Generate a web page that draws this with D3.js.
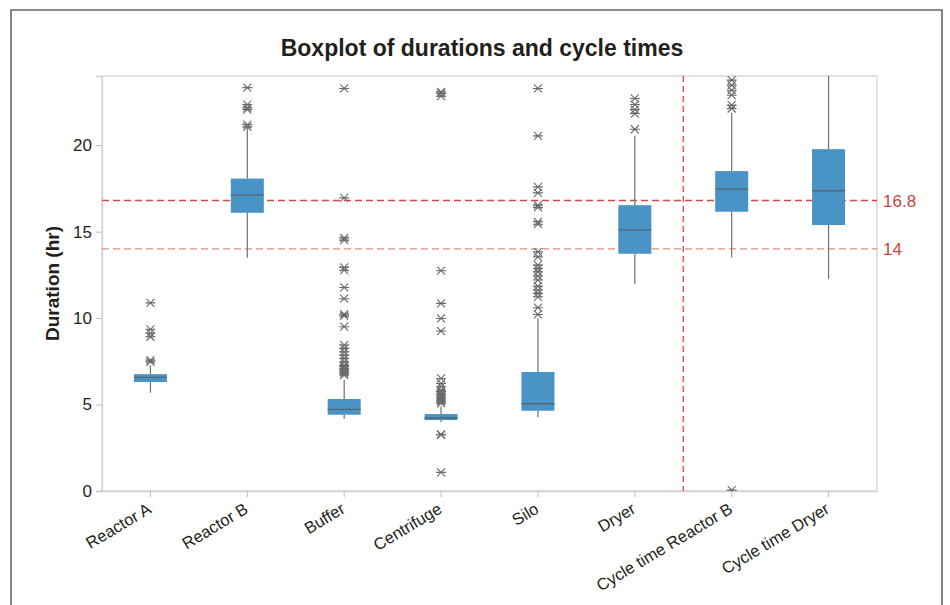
<!DOCTYPE html>
<html>
<head>
<meta charset="utf-8">
<script src="https://cdn.jsdelivr.net/npm/d3@7"></script>
<style>
  html, body { margin: 0; padding: 0; background: #fff; }
  svg { display: block; font-family: "Liberation Sans", Arial, sans-serif; }
</style>
</head>
<body>
<svg id="chart" width="950" height="605"></svg>
<script>
// ---- Data ----
const categories = ["Reactor A", "Reactor B", "Buffer", "Centrifuge", "Silo", "Dryer", "Cycle time Reactor B", "Cycle time Dryer"];
const q1 =        [6.30, 16.09, 4.41, 4.10, 4.64, 13.72, 16.15, 15.38];
const medians =   [6.57, 17.11, 4.72, 4.22, 5.05, 15.10, 17.46, 17.36];
const q3 =        [6.76, 18.07, 5.32, 4.45, 6.88, 16.53, 18.50, 19.77];
const whiskerLo = [5.68, 13.49, 4.16, 3.97, 4.26, 11.98, 13.51, 12.27];
const whiskerHi = [7.28, 21.00, 6.42, 4.90, 9.98, 20.54, 21.87, 25.00];
const outliers = [
  [7.47, 7.57, 8.92, 9.12, 9.35, 10.88],
  [21.06, 21.19, 22.06, 22.16, 22.35, 23.33],
  [6.70, 6.80, 6.90, 7.00, 7.09, 7.20, 7.28, 7.47, 7.67, 7.86, 8.05, 8.25, 8.44, 9.50, 10.13, 10.23, 11.12, 11.77, 12.77, 12.93, 14.51, 14.64, 16.95, 23.28],
  [1.08, 3.24, 3.28, 5.07, 5.17, 5.26, 5.36, 5.45, 5.55, 5.65, 5.75, 5.84, 6.03, 6.22, 6.51, 9.25, 9.98, 10.85, 12.74, 22.83, 22.99, 23.08],
  [10.21, 10.60, 11.23, 11.43, 11.62, 11.85, 12.20, 12.43, 12.68, 12.87, 13.06, 13.54, 13.83, 15.43, 15.57, 16.40, 16.53, 17.24, 17.59, 20.54, 23.28],
  [20.92, 21.83, 22.06, 22.35, 22.70],
  [0.05, 22.12, 22.31, 22.89, 23.18, 23.47, 23.76],
  []
];
const yTicks = [0, 5, 10, 15, 20];
const refLines = [16.8, 14];
const refLabels = ["16.8", "14"];
const dividerAfter = "Dryer";

// ---- Layout ----
const svg = d3.select("#chart");
const margin = { left: 102, right: 877, top: 76, bottom: 491 };

const x = d3.scaleBand().domain(categories).range([margin.left, margin.right]).padding(0);
const y = d3.scaleLinear().domain([0, 24]).range([margin.bottom, margin.top]);

// outer frame
svg.append("path")
  .attr("d", `M11,606 L11,10 L942,10 L942,606`)
  .attr("fill", "none").attr("stroke", "#6d645c").attr("stroke-width", 1.6);

// title
svg.append("text")
  .attr("x", 482).attr("y", 56)
  .attr("text-anchor", "middle")
  .attr("font-size", 23).attr("font-weight", "bold")
  .attr("fill", "#231f1a")
  .text("Boxplot of durations and cycle times");

// clip
svg.append("defs").append("clipPath").attr("id", "plotclip")
  .append("rect")
  .attr("x", margin.left).attr("y", margin.top)
  .attr("width", margin.right - margin.left).attr("height", margin.bottom - margin.top);

// plot frame
svg.append("rect")
  .attr("x", margin.left).attr("y", margin.top)
  .attr("width", margin.right - margin.left).attr("height", margin.bottom - margin.top)
  .attr("fill", "none").attr("stroke", "#d2d2d2").attr("stroke-width", 1.3);

// y axis
const yAxis = svg.append("g")
  .attr("transform", `translate(${margin.left},0)`)
  .call(d3.axisLeft(y).tickValues(yTicks).tickSize(6).tickPadding(4).tickFormat(d3.format("d")));
yAxis.select(".domain").attr("stroke", "#d2d2d2").attr("stroke-width", 1.3);
yAxis.selectAll(".tick line").attr("stroke", "#bdbdbd");
yAxis.selectAll(".tick text").attr("font-size", 17).attr("fill", "#231f1a")
  .attr("font-family", "Liberation Sans, Arial, sans-serif");

// y label
svg.append("text")
  .attr("transform", `translate(59,${(margin.top + margin.bottom) / 2}) rotate(-90)`)
  .attr("text-anchor", "middle")
  .attr("font-size", 19).attr("font-weight", "bold").attr("fill", "#231f1a")
  .text("Duration (hr)");

// x axis
const xAxis = svg.append("g")
  .attr("transform", `translate(0,${margin.bottom})`)
  .call(d3.axisBottom(x).tickSize(6).tickSizeOuter(0));
xAxis.select(".domain").attr("stroke", "#d2d2d2").attr("stroke-width", 1.3);
xAxis.selectAll(".tick line").attr("stroke", "#bdbdbd");
xAxis.selectAll(".tick text")
  .attr("font-size", 16.5).attr("fill", "#231f1a")
  .attr("font-family", "Liberation Sans, Arial, sans-serif")
  .attr("text-anchor", "end")
  .attr("x", 0).attr("y", 0)
  .attr("dy", "0")
  .attr("transform", "translate(2,21) rotate(-31)");

const plot = svg.append("g").attr("clip-path", "url(#plotclip)");

// reference lines
const refColors = ["#d04a42", "#e58a84"];
refLines.forEach((v, i) => {
  plot.append("line")
    .attr("x1", margin.left).attr("x2", margin.right)
    .attr("y1", y(v)).attr("y2", y(v))
    .attr("stroke", refColors[i]).attr("stroke-width", 1.3)
    .attr("stroke-dasharray", "7,4");
  svg.append("text")
    .attr("x", margin.right + 6).attr("y", y(v) + 6)
    .attr("font-size", 17).attr("fill", "#c8453d")
    .text(refLabels[i]);
});

// vertical divider
const divX = x(dividerAfter) + x.bandwidth();
plot.append("line")
  .attr("x1", divX).attr("x2", divX)
  .attr("y1", margin.top).attr("y2", margin.bottom)
  .attr("stroke", "#d04a42").attr("stroke-width", 1.3)
  .attr("stroke-dasharray", "6,4");

// boxes
const boxW = 33;
categories.forEach((c, i) => {
  const cx = x(c) + x.bandwidth() / 2;
  const g = plot.append("g");
  // whiskers
  g.append("line").attr("x1", cx).attr("x2", cx)
    .attr("y1", y(q3[i])).attr("y2", y(whiskerHi[i]))
    .attr("stroke", "#707070").attr("stroke-width", 1.2);
  g.append("line").attr("x1", cx).attr("x2", cx)
    .attr("y1", y(q1[i])).attr("y2", y(whiskerLo[i]))
    .attr("stroke", "#707070").attr("stroke-width", 1.2);
  // box
  g.append("rect")
    .attr("x", cx - boxW / 2).attr("width", boxW)
    .attr("y", y(q3[i])).attr("height", y(q1[i]) - y(q3[i]))
    .attr("fill", "#4a93c6");
  // median
  g.append("line")
    .attr("x1", cx - boxW / 2).attr("x2", cx + boxW / 2)
    .attr("y1", y(medians[i])).attr("y2", y(medians[i]))
    .attr("stroke", "#566670").attr("stroke-width", 1.4);
  // outliers (asterisks)
  outliers[i].forEach(v => {
    const py = y(v);
    const s = 5, t = 4;
    g.append("path")
      .attr("d", `M${cx - s},${py} L${cx + s},${py} M${cx - t},${py - t} L${cx + t},${py + t} M${cx - t},${py + t} L${cx + t},${py - t}`)
      .attr("stroke", "#6a6a6a").attr("stroke-width", 1.1).attr("fill", "none");
  });
});
</script>
</body>
</html>
